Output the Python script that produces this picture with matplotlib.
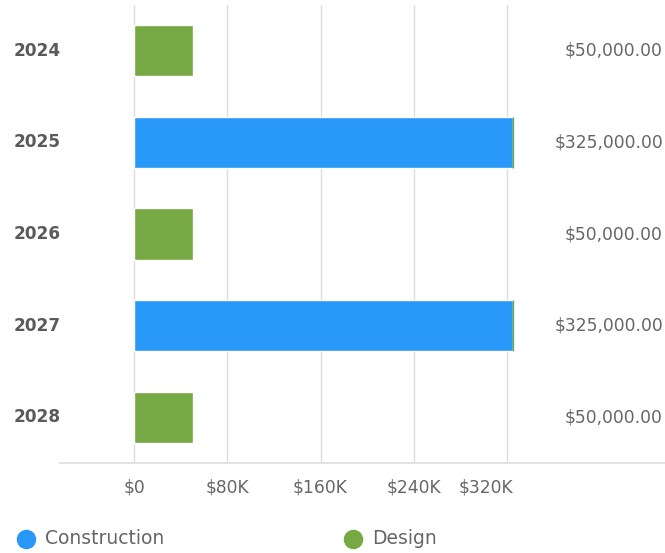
import matplotlib
matplotlib.use("Agg")
import matplotlib.pyplot as plt
from matplotlib.lines import Line2D
import matplotlib.transforms as mtransforms

years = ["2024", "2025", "2026", "2027", "2028"]
construction = [0, 325000, 0, 325000, 0]
design = [50000, 0, 50000, 0, 50000]
totals = [c + d for c, d in zip(construction, design)]
xticks = [0, 80000, 160000, 240000, 320000]
xtick_labels = ["$0", "$80K", "$160K", "$240K", "$320K"]
series_names = ["Construction", "Design"]

BLUE = "#2797F8"
GREEN = "#76A843"
GRID = "#DDDDDD"
TEXT = "#666666"

plt.rcParams['font.family'] = ['DejaVu Sans']

W, H = 665, 553
fig = plt.figure(figsize=(W / 100, H / 100), dpi=100)
ax = fig.add_axes([60 / W, (H - 463) / H, 605 / W, 458 / H])

px_per_80k = (506.8 - 134.3) / 4
x0 = -(134.3 - 60) / px_per_80k * 80000
x1 = (665 - 134.3) / px_per_80k * 80000
ax.set_xlim(x0, x1)
ax.set_ylim(len(years) - 0.5, -0.5)

ypos = list(range(len(years)))
bh = 0.56
ax.barh(ypos, construction, height=bh, color=BLUE, edgecolor="white", linewidth=1, zorder=3)
design_edges = [GREEN if d == 0 else "white" for d in design]
ax.barh(ypos, design, left=construction, height=bh, color=GREEN,
        edgecolor=design_edges, linewidth=1, zorder=3)

for xt in xticks:
    ax.axvline(xt, color=GRID, linewidth=1, zorder=1)

for s in ["top", "right", "left"]:
    ax.spines[s].set_visible(False)
ax.spines["bottom"].set_color(GRID)
ax.spines["bottom"].set_linewidth(1.2)

ax.set_xticks(xticks)
ax.set_xticklabels(xtick_labels, fontsize=12.3, color=TEXT)
ax.tick_params(axis="x", length=0, pad=11)
ax.set_yticks([])

# shift last tick label left like the reference
labels = ax.get_xticklabels()
offset = mtransforms.ScaledTranslation(-21 / 100, 0, fig.dpi_scale_trans)
labels[-1].set_transform(labels[-1].get_transform() + offset)

for i, (yr, tot) in enumerate(zip(years, totals)):
    ax.text(37 / W, i, yr, transform=mtransforms.blended_transform_factory(fig.transFigure, ax.transData),
            ha="center", va="center", fontsize=12.2, fontweight="bold", color="#5a5a5a")
    ax.text(663 / W, i, f"${tot:,.2f}", transform=mtransforms.blended_transform_factory(fig.transFigure, ax.transData),
            ha="right", va="center", fontsize=12.3, color=TEXT)

ly = 1 - 539 / H
for name, col, cx, tx in [(series_names[0], BLUE, 25.5, 45), (series_names[1], GREEN, 352.5, 372)]:
    fig.add_artist(Line2D([cx / W], [ly], marker="o", markersize=13, color=col,
                          linestyle="none", transform=fig.transFigure))
    fig.text(tx / W, ly, name, ha="left", va="center", fontsize=13.5, color=TEXT)

fig.savefig("out.png", dpi=100)
